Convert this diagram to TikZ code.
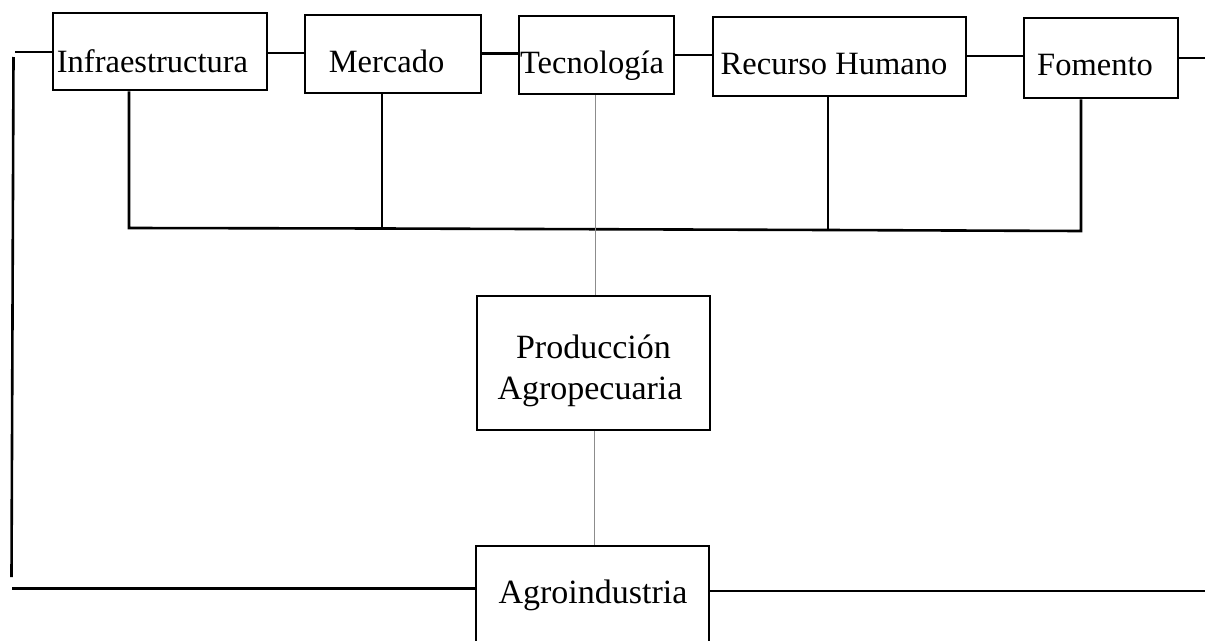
\documentclass[tikz,border=0pt]{standalone}
\usepackage{fontspec}
\setmainfont{Liberation Serif}
\begin{document}
\begin{tikzpicture}[x=1pt,y=-1pt,
  box/.style={draw, line width=2.6pt, inner sep=0pt},
  txt/.style={inner sep=0pt, anchor=base, font=\fontsize{32.5}{38}\selectfont},
  txtb/.style={inner sep=0pt, anchor=base, font=\fontsize{34}{40}\selectfont},
  ln/.style={line width=2.6pt},
  gl/.style={line width=0.8pt, black!45}]
\useasboundingbox (0,0) rectangle (1205,640);
\clip (0,0) rectangle (1205,640);
\fill[white] (0,0) rectangle (1205,640);

% boxes
\node[box, minimum width=214pt, minimum height=77pt] (inf) at (160,51.5) {};
\node[box, minimum width=176pt, minimum height=78pt] (mer) at (393,54) {};
\node[box, minimum width=155pt, minimum height=78pt] (tec) at (596.5,55) {};
\node[box, minimum width=253pt, minimum height=79pt] (rh) at (839.5,56.5) {};
\node[box, minimum width=154pt, minimum height=80pt] (fom) at (1101,58) {};
\node[box, minimum width=233pt, minimum height=134pt] (prod) at (593.5,363) {};
\node[box, minimum width=233pt, minimum height=114pt] (agro) at (592.5,603) {};

% texts
\node[txt] (infT) at (152.5,72) {Infraestructura};
\node[txt] (merT) at (386.5,72) {Mercado};
\node[txt] (tecT) at (592,73) {Tecnología};
\node[txt] (rhT) at (834,74) {Recurso Humano};
\node[txt] (fomT) at (1095,75) {Fomento};
\node[txtb] (prodT1) at (593.5,358) {Producción};
\node[txtb] (prodT2) at (590,399) {Agropecuaria};
\node[txtb] (agroT) at (593,603) {Agroindustria};

% coordinates
\coordinate (y1) at (0,53);
\coordinate (y2) at (0,53.5);
\coordinate (y3) at (0,55);
\coordinate (y4) at (0,56);
\coordinate (L1) at (15,52);
\coordinate (L2) at (13.5,57);
\coordinate (L3) at (11.5,577);
\coordinate (L4) at (12,588.5);
\coordinate (R1) at (1206,58);
\coordinate (R2) at (1206,591);
\coordinate (b1) at (129,228);
\coordinate (b2) at (382,228.5);
\coordinate (b3) at (828,230);
\coordinate (b4) at (1081,231);
\coordinate (gx) at (595,0);
\coordinate (gx2) at (594,0);

% top chain
\draw[ln] (L1) -- (inf.west |- L1);
\draw[ln] (inf.east |- y1) -- (mer.west |- y1);
\draw[ln] (mer.east |- y2) -- (tec.west |- y2);
\draw[ln] (tec.east |- y3) -- (rh.west |- y3);
\draw[ln] (rh.east |- y4) -- (fom.west |- y4);
\draw[ln] (fom.east |- R1) -- (R1);

% left return
\draw[ln] (L2) -- (L3);
\draw[ln] (L4) -- (agro.west |- L4);
\draw[ln] (agro.east |- R2) -- (R2);

% bus
\draw[ln] (b1 |- inf.south) -- (b1) -- (b2) -- (b3) -- (b4) -- (b4 |- fom.south);
\draw[ln] (b2 |- mer.south) -- (b2);
\draw[ln] (b3 |- rh.south) -- (b3);

% thin gray centre line
\draw[gl] (tec.south -| gx) -- (prod.north -| gx);
\draw[gl] (prod.south -| gx2) -- (agro.north -| gx2);
\end{tikzpicture}
\end{document}
